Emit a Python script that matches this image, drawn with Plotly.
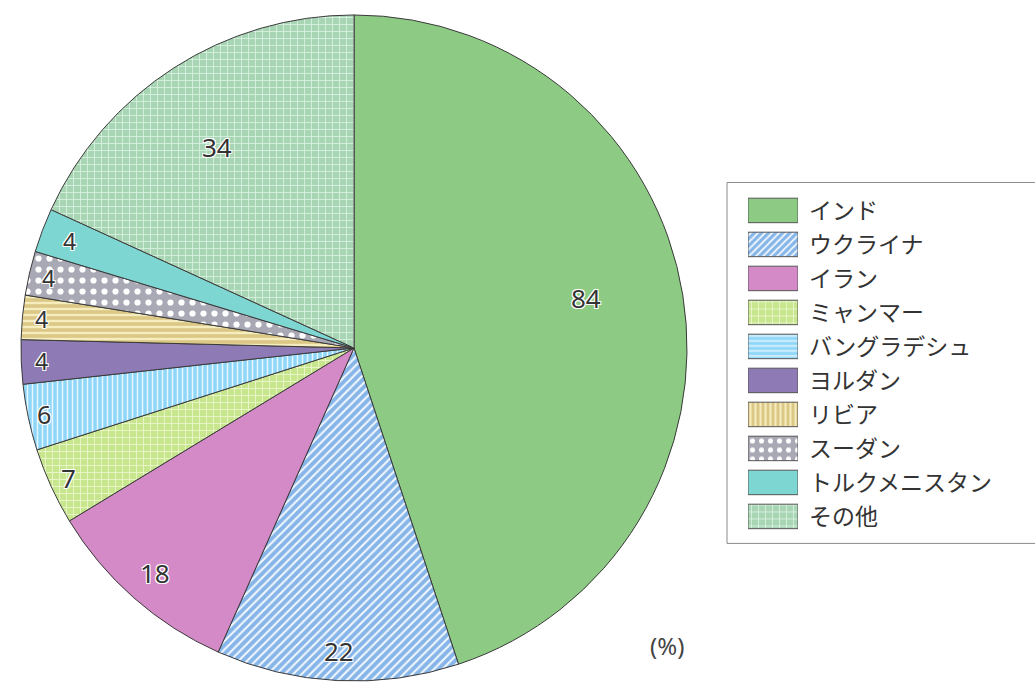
import math
import plotly.graph_objects as go

# Share by country (%)
countries = ["インド", "ウクライナ", "イラン", "ミャンマー", "バングラデシュ",
             "ヨルダン", "リビア", "スーダン", "トルクメニスタン", "その他"]
values = [84, 22, 18, 7, 6, 4, 4, 4, 4, 34]

# Fill styling per slice
base_colors = ["#8DCB84", "#86B5E8", "#D58AC8", "#C7E68E", "#8FD6F8",
               "#8E7BB5", "#DCC886", "#A9A9B6", "#7ED6D2", "#A8D5B4"]
line_colors = ["#8DCB84", "#F2F8FF", "#D58AC8", "#EEF8D0", "#E6F7FF",
               "#8E7BB5", "#F6EDBE", "#FFFFFF", "#7ED6D2", "#DDF3E4"]
pie_shapes = ["", "/", "", "+", "|", "", "-", ".", "", "+"]
legend_shapes = ["", "/", "", "+", "-", "", "|", ".", "", "+"]
pattern_sizes = [6, 6, 6, 7, 5, 6, 6, 11, 6, 7]
legend_sizes = [5, 5, 5, 7, 5, 5, 5, 9, 5, 7]
pattern_solid = [0.3, 0.35, 0.3, 0.22, 0.3, 0.3, 0.4, 0.25, 0.3, 0.22]

# Where each value label sits: radius fraction and angular nudge (degrees)
label_radius = [0.71, 0.91, 0.90, 0.94, 0.95, 0.935, 0.94, 0.94, 0.91, 0.73]
label_nudge = [-3, 0, 0, 0, 0, 0, 0, 0, 0, -1.5]
label_sizes = [26, 26, 26, 26, 25, 23, 23, 23, 23, 26]

W, H = 1035, 685
cx, cy, R = 354, 347, 334

fig = go.Figure()

fig.add_trace(go.Pie(
    labels=countries,
    values=values,
    sort=False,
    direction="clockwise",
    rotation=0,
    showlegend=False,
    domain=dict(x=[(cx - R) / W, (cx + R) / W],
                y=[1 - (cy + R) / H, 1 - (cy - R) / H]),
    marker=dict(
        colors=base_colors,
        line=dict(color="#3A3A3A", width=1),
        pattern=dict(shape=pie_shapes, fgcolor=line_colors, bgcolor=base_colors,
                     size=pattern_sizes, solidity=pattern_solid, fillmode="replace"),
    ),
    textinfo="none",
    hoverinfo="label+value",
))

# Value labels placed along each slice's bisector
total = sum(values)
halo = "1px 1px 0 white, -1px -1px 0 white, 1px -1px 0 white, -1px 1px 0 white"
annotations = []
cum = 0
for v, rf, nd, fs in zip(values, label_radius, label_nudge, label_sizes):
    theta = math.radians((cum + v / 2) / total * 360 + nd)
    cum += v
    px = cx + rf * R * math.sin(theta)
    py = cy - rf * R * math.cos(theta)
    annotations.append(dict(
        text=str(v), xref="paper", yref="paper", x=px / W, y=1 - py / H,
        xanchor="center", yanchor="middle", showarrow=False,
        font=dict(family="Noto Sans, DejaVu Sans", size=fs, color="#333333",
                  shadow=halo)))

annotations.append(dict(text="(%)", xref="paper", yref="paper",
                        x=667 / W, y=1 - 645 / H, xanchor="center", yanchor="middle",
                        showarrow=False,
                        font=dict(family="Noto Sans, DejaVu Sans", size=24, color="#444444")))

# Legend swatches: one small bar per country
for i, name in enumerate(countries):
    fig.add_trace(go.Bar(
        x=[1], y=[name],
        orientation="h",
        width=0.72,
        xaxis="x2", yaxis="y2",
        showlegend=False,
        hoverinfo="skip",
        marker=dict(
            color=base_colors[i],
            line=dict(color="#555555", width=1),
            pattern=dict(shape=legend_shapes[i], fgcolor=line_colors[i],
                         bgcolor=base_colors[i], size=legend_sizes[i],
                         solidity=pattern_solid[i], fillmode="replace"),
        ),
    ))

row_top, row_bot = 192, 533
fig.update_layout(
    width=W, height=H,
    margin=dict(l=0, r=0, t=0, b=0),
    paper_bgcolor="white",
    plot_bgcolor="rgba(0,0,0,0)",
    barmode="overlay",
    xaxis2=dict(domain=[748 / W, 798 / W], range=[0, 1], visible=False,
                fixedrange=True, anchor="y2"),
    yaxis2=dict(domain=[1 - row_bot / H, 1 - row_top / H], anchor="x2",
                side="right", autorange="reversed", showgrid=False,
                showline=False, zeroline=False, ticks="", ticklabelstandoff=10,
                categoryorder="array", categoryarray=countries,
                tickfont=dict(family="Noto Sans CJK JP", size=23, color="#333333"),
                fixedrange=True),
    shapes=[dict(type="rect", xref="paper", yref="paper",
                 x0=727 / W, x1=1.02, y0=1 - 543 / H, y1=1 - 181 / H,
                 line=dict(color="#8A8A8A", width=1), fillcolor="rgba(0,0,0,0)",
                 layer="below")],
    annotations=annotations,
)

fig.write_html("out.html")
